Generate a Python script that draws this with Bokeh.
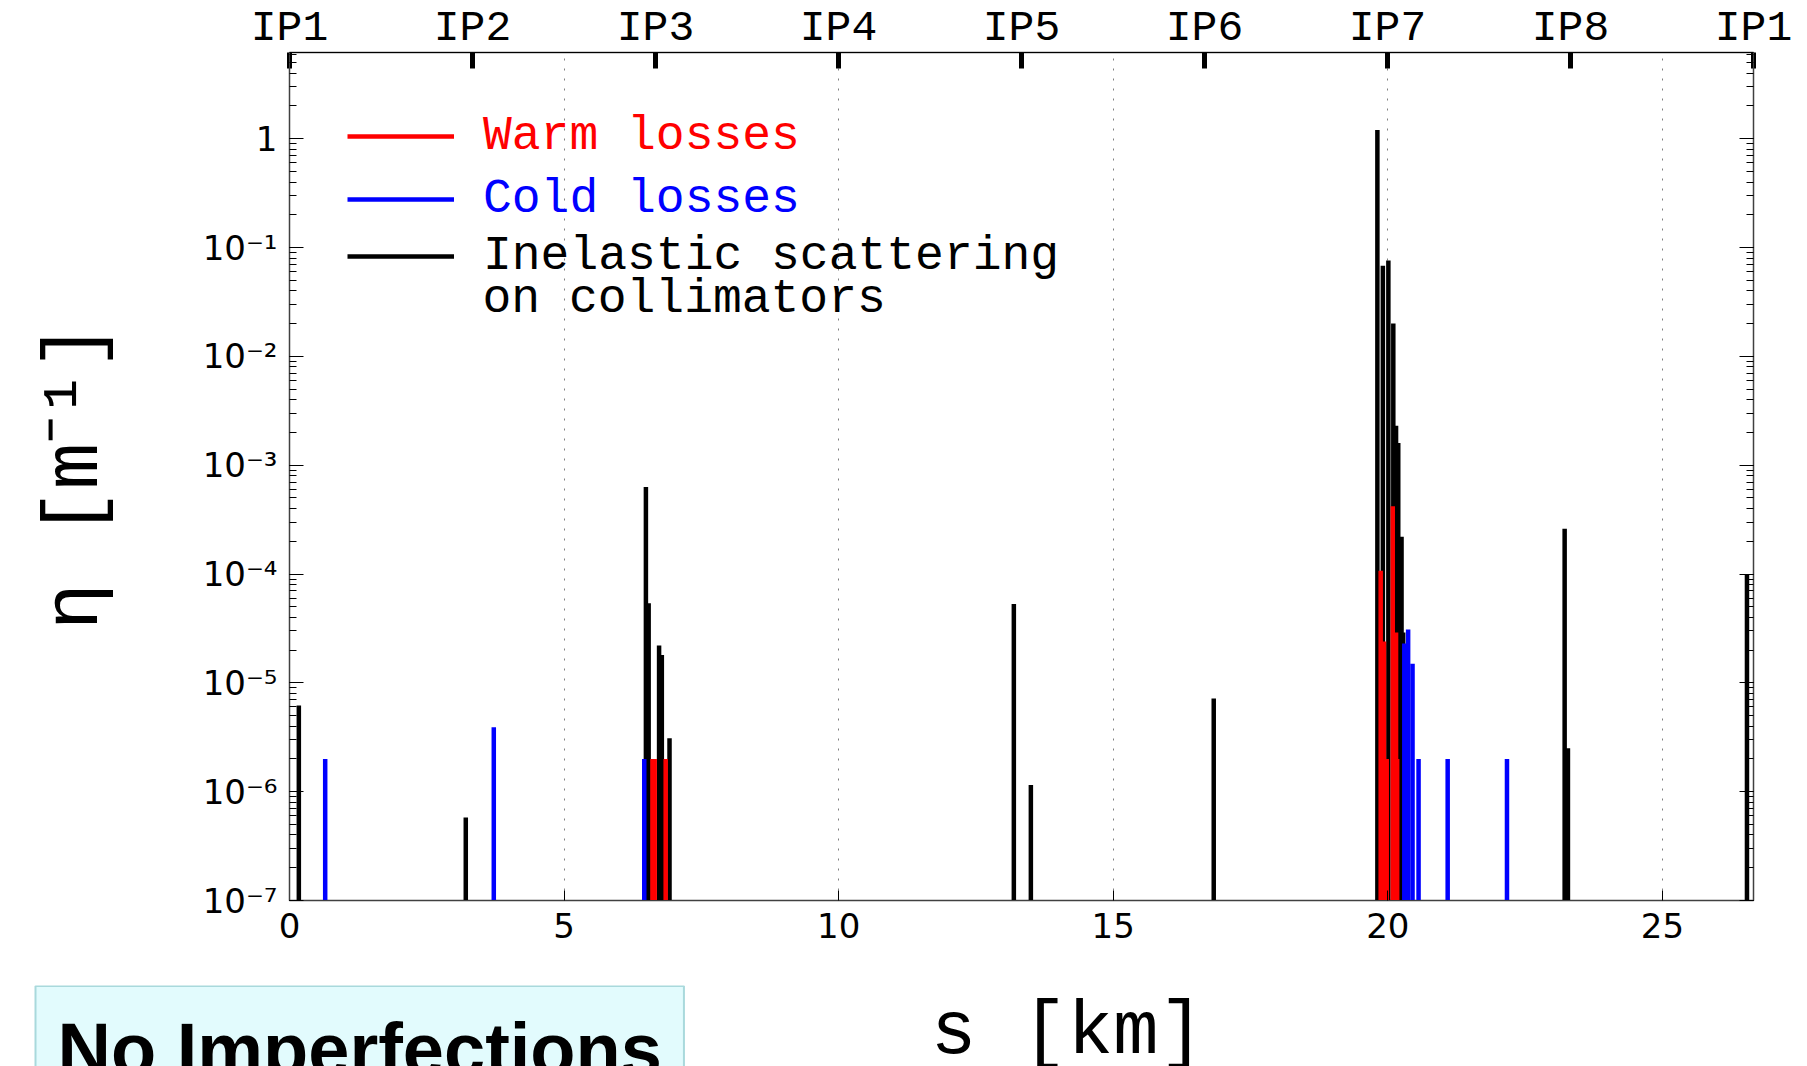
from bokeh.plotting import figure
from bokeh.layouts import column
from bokeh.models import (LinearAxis, LogAxis, Range1d, FixedTicker, LogTicker,
                          CustomJSTickFormatter, Legend, LegendItem, Label)
from bokeh.embed import file_html
from bokeh.resources import INLINE

# ---------------- data ----------------
ring_km = 26.659                      # LHC circumference
eta_min, eta_max = 1e-7, 6.2          # y range of the plot
ip_index = [0, 1, 2, 3, 4, 5, 6, 7, 8]
ip_labels = ["IP1", "IP2", "IP3", "IP4", "IP5", "IP6", "IP7", "IP8", "IP1"]
s_ticks = [0, 5, 10, 15, 20, 25]
grid_s = [5, 10, 15, 20, 25]

# inelastic scattering on collimators (black)
black_s = [0.17, 3.21, 6.49, 6.54, 6.73, 6.78, 6.92, 13.19, 13.50, 16.83,
           19.81, 19.91, 20.01, 20.10, 20.15, 20.19, 20.25, 20.28,
           23.22, 23.28, 26.54]
black_eta = [6.2e-6, 5.8e-7, 6.3e-4, 5.4e-5, 2.2e-5, 1.8e-5, 3.1e-6, 5.3e-5, 1.15e-6, 7.2e-6,
             1.2, 6.8e-2, 7.6e-2, 2.0e-2, 2.3e-3, 1.6e-3, 2.2e-4, 2.9e-5,
             2.6e-4, 2.5e-6, 1.0e-4]

# cold losses (blue)
blue_s = [0.65, 3.72, 6.46, 20.30, 20.37, 20.45, 20.56, 21.09, 22.17]
blue_eta = [2.0e-6, 3.9e-6, 2.0e-6, 2.3e-5, 3.1e-5, 1.5e-5, 2.0e-6, 2.0e-6, 2.0e-6]

# warm losses (red)
red_s = [6.61, 6.65, 6.85, 19.87, 19.93, 19.98, 20.09, 20.15, 20.17]
red_eta = [2.0e-6, 2.0e-6, 2.0e-6, 1.07e-4, 2.4e-5, 2.0e-6, 4.2e-4, 2.9e-5, 2.0e-6]

# ---------------- main figure ----------------
p = figure(width=1807, height=985,
           x_range=Range1d(0, ring_km), y_range=Range1d(eta_min, eta_max),
           y_axis_type="log", output_backend="svg", toolbar_location=None,
           min_border_left=289, min_border_right=54, min_border_top=51,
           min_border_bottom=85)
p.frame_align = False
p.background_fill_color = "white"
p.border_fill_color = "white"
p.outline_line_color = "#404040"
p.outline_line_width = 1.5

p.extra_x_ranges = {"ip": Range1d(0, 8)}

# grid
p.ygrid.visible = False
p.xgrid.ticker = FixedTicker(ticks=grid_s)
p.xgrid.grid_line_color = "#808080"
p.xgrid.grid_line_dash = "2 8"
p.xgrid.grid_line_width = 1

# bars (black first, then blue, then red on top)
def bars(s, eta, color):
    return p.segment(x0=s, y0=[eta_min] * len(s), x1=s, y1=eta,
                     line_color=color, line_width=4.5, line_cap="butt")

r_black = bars(black_s, black_eta, "black")
r_blue = bars(blue_s, blue_eta, "#0000ff")
r_red = bars(red_s, red_eta, "#ff0000")

# bottom axis
xa = p.xaxis[0]
xa.ticker = FixedTicker(ticks=s_ticks)
xa.axis_line_color = "#404040"
xa.major_tick_in = 10
xa.major_tick_out = 0
xa.minor_tick_in = 0
xa.minor_tick_out = 0
xa.major_label_standoff = 12
xa.major_label_text_font = "DejaVu Sans"
xa.major_label_text_font_size = "34px"
xa.major_label_text_color = "black"

# left axis
sup_code = """
const e = Math.round(Math.log10(tick));
if (e === 0) { return "1"; }
const sup = {"-": "\u207b", "0": "\u2070", "1": "\u00b9", "2": "\u00b2", "3": "\u00b3",
             "4": "\u2074", "5": "\u2075", "6": "\u2076", "7": "\u2077", "8": "\u2078", "9": "\u2079"};
return "10" + String(e).split("").map(c => sup[c]).join("");
"""
ya = p.yaxis[0]
ya.ticker = LogTicker(desired_num_ticks=10, num_minor_ticks=10)
ya.formatter = CustomJSTickFormatter(code=sup_code)
ya.axis_line_color = "#404040"
ya.major_tick_in = 14
ya.major_tick_out = 0
ya.minor_tick_in = 7
ya.minor_tick_out = 0
ya.major_label_standoff = 12
ya.major_label_text_font = "DejaVu Sans"
ya.major_label_text_font_size = "34px"
ya.major_label_text_color = "black"
ya.axis_label = "\u03b7 [m\u207b\u00b9]"
ya.axis_label_text_font = "Liberation Mono"
ya.axis_label_text_font_size = "78px"
ya.axis_label_text_font_style = "normal"
ya.axis_label_text_color = "black"
ya.axis_label_standoff = 80

# right axis (ticks only, empty labels)
ra = LogAxis(ticker=LogTicker(desired_num_ticks=10, num_minor_ticks=10),
             formatter=CustomJSTickFormatter(code="return '';"),
             major_label_standoff=0,
             axis_line_color="#404040",
             major_tick_in=14, major_tick_out=0, minor_tick_in=7, minor_tick_out=0)
p.add_layout(ra, "right")

# top axis with interaction points
ta = LinearAxis(x_range_name="ip", ticker=FixedTicker(ticks=ip_index),
                major_label_overrides=dict(zip(ip_index, ip_labels)),
                axis_line_color="black",
                major_tick_in=16, major_tick_out=0, major_tick_line_width=5,
                minor_tick_in=0, minor_tick_out=0,
                major_label_standoff=0,
                major_label_text_font="Liberation Mono",
                major_label_text_font_size="43px",
                major_label_text_color="black")
p.add_layout(ta, "above")

# legends (one per colour so the label text takes the series colour)
def add_legend(label, renderer, color, y):
    lg = Legend(items=[LegendItem(label=label, renderers=[renderer])],
                location=(57, y), padding=1, margin=1, spacing=0,
                glyph_width=107, glyph_height=30, label_standoff=29,
                label_text_font="Liberation Mono", label_text_font_size="48px",
                label_text_color=color, border_line_alpha=0,
                background_fill_alpha=0)
    p.add_layout(lg)

add_legend("Warm losses", r_red, "#ff0000", 736)
add_legend("Cold losses", r_blue, "#0000ff", 673)
add_legend("Inelastic scattering", r_black, "black", 616)
p.add_layout(Label(x=193, y=602, x_units="screen", y_units="screen",
                   text="on collimators", text_font="Liberation Mono",
                   text_font_size="48px", text_color="black",
                   text_baseline="middle", text_align="left"))

# ---------------- bottom strip: x title and caption box ----------------
pb = figure(width=1807, height=81, x_range=Range1d(0, 1), y_range=Range1d(0, 1),
            output_backend="svg", toolbar_location=None,
            x_axis_location=None, y_axis_location=None,
            min_border=0, min_border_left=0, min_border_right=0,
            min_border_top=0, min_border_bottom=0)
pb.frame_align = False
pb.outline_line_color = None
pb.xgrid.visible = False
pb.ygrid.visible = False
pb.background_fill_color = "white"
pb.border_fill_color = "white"

pb.add_layout(Label(x=1067, y=34, x_units="screen", y_units="screen",
                    text="s [km]", text_font="Liberation Mono",
                    text_font_size="76px", text_color="black",
                    text_align="center", text_baseline="alphabetic"))

pb.add_layout(Label(x=35, y=17, x_units="screen", y_units="screen",
                    text="No Imperfections", text_font="Liberation Sans",
                    text_font_size="74px", text_font_style="bold",
                    text_color="black", text_baseline="alphabetic",
                    background_fill_color="#e2fbfd", border_line_color="#a9d9dc",
                    border_line_width=2, padding=22))

open("out.html", "w").write(file_html(column(p, pb, spacing=0), INLINE))
